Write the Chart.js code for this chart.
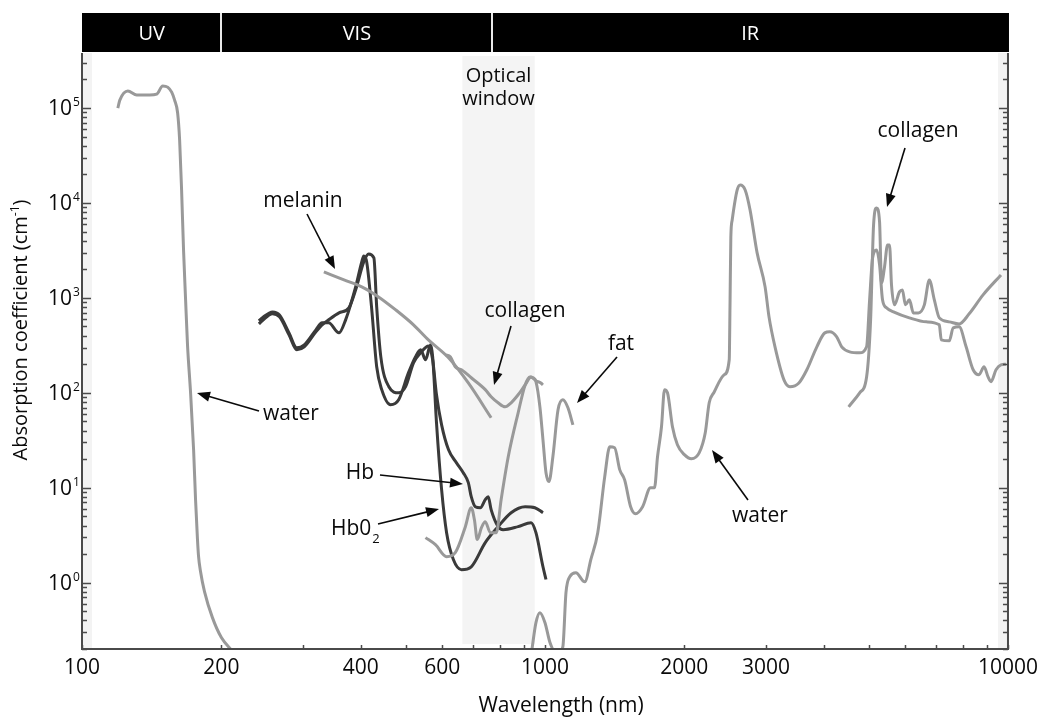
<!DOCTYPE html>
<html>
<head>
<meta charset="utf-8">
<title>Absorption spectra of tissue chromophores</title>
<script src="https://cdn.jsdelivr.net/npm/chart.js@4.4.1/dist/chart.umd.min.js"></script>
<style>
  html, body { margin: 0; padding: 0; background: #fff; }
  canvas { display: block; }
</style>
</head>
<body>
<canvas id="chart" width="1044" height="720"></canvas>
<script>
// Wavelengths (nm) and absorption coefficients (cm^-1)
const waterUvNm = [119.5, 120.7, 125.6, 131.3, 140, 145, 149.4, 153.1, 156.2, 158.5, 160.9, 162.5, 164.1, 165.7, 167.4, 169.0, 171.6, 174.2, 175.9, 177.6, 178.5, 180.3, 183.9, 191.3, 200, 211.3];
const waterUvAbs = [1.0e5, 1.21e5, 1.51e5, 1.37e5, 1.37e5, 1.40e5, 1.71e5, 1.66e5, 1.47e5, 1.21e5, 8.86e4, 4.6e4, 1.37e4, 3200, 953, 320, 100, 25.1, 7.48, 2.84, 1.92, 1.31, 0.804, 0.428, 0.264, 0.19];

const waterIrNm = [936, 956, 975, 1000, 1025, 1051, 1077, 1093, 1110, 1132, 1166, 1219, 1256, 1300, 1346, 1380, 1414, 1450, 1486, 1531, 1569, 1625, 1690, 1724, 1750, 1785, 1812, 1839, 1885, 1932, 2000, 2071, 2154, 2219, 2263, 2320, 2438, 2500, 2510, 2520, 2537, 2601, 2640, 2706, 2773, 2872, 2988, 3047, 3139, 3282, 3381, 3535, 3678, 3865, 4021, 4122, 4267, 4374, 4551, 4783, 4950, 5025, 5100, 5202, 5280, 5358, 5465, 5659, 6124, 6664, 7106, 7177, 7467, 7616, 7845, 8120, 8409, 8657, 8879, 9057, 9192, 9423, 9658, 9900];
const waterIrAbs = [0.19, 0.379, 0.483, 0.379, 0.234, 0.19, 0.19, 0.212, 0.785, 1.16, 1.27, 1.02, 1.75, 3.36, 13.1, 27.0, 26.4, 15.5, 12.1, 6.31, 5.32, 6.31, 10, 10, 21.2, 43.9, 108, 100, 43.9, 28.4, 22.3, 20.2, 23.4, 37.9, 78.5, 102, 155, 223, 886, 4387, 6624, 13700, 15470, 13700, 8440, 2977, 1306, 631, 305, 137, 116, 127, 175, 305, 428, 439, 389, 305, 270, 264, 305, 953, 2637, 3202, 2226, 953, 785, 712, 616, 559, 520, 361, 353, 483, 495, 305, 175, 155, 188, 147, 131, 175, 197, 200];

const melaninNm = [333, 368, 402, 437, 476, 520, 560, 619, 683, 765];
const melaninAbs = [1878, 1547, 1306, 1024, 747, 520, 361, 234, 127, 54.6];

const collagenVisNm = [610, 625, 640, 660, 693, 743, 765, 792, 820, 845, 875, 906, 933, 956, 980, 990];
const collagenVisAbs = [251, 239, 188, 175, 144, 108, 90.8, 78.5, 71.2, 78.5, 95.3, 121, 147, 134, 127, 121];

const collagenIrNm = [4528, 4783, 4950, 5050, 5125, 5202, 5280, 5332, 5412, 5493, 5548, 5603, 5686, 5829, 5916, 6004, 6124, 6247, 6404, 6597, 6763, 6933, 7106, 7467, 7845, 8244, 8835, 9658];
const collagenIrAbs = [71.2, 100, 147, 587, 5868, 8858, 6310, 1439, 2120, 3613, 3613, 1370, 844, 1157, 1214, 844, 953, 695, 695, 844, 1547, 953, 616, 559, 532, 679, 1076, 1746];

const fatNm = [552, 580, 613, 640, 673, 693, 704, 714, 729, 743, 762, 785, 804, 833, 875, 906, 928, 942, 956, 975, 990, 1005, 1020, 1040, 1067, 1093, 1121, 1149];
const fatAbs = [2.98, 2.51, 1.88, 2.07, 3.89, 6.16, 4.60, 2.84, 3.79, 4.39, 3.36, 3.36, 7.48, 21.2, 61.6, 121, 147, 144, 131, 71.2, 32.0, 14.4, 11.6, 21.2, 66.2, 84.4, 69.5, 46.0];

const hbo2Nm = [241, 245, 258, 267, 280, 291, 302, 320, 330, 341, 359, 371, 390, 402, 406, 412, 422, 433, 444, 464, 483, 507, 525, 539, 552, 566, 572, 583, 598, 613, 634, 660, 693, 743, 792, 845, 906, 951, 990];
const hbo2Abs = [573, 616, 712, 662, 428, 298, 320, 460, 546, 546, 428, 587, 1306, 2393, 2768, 2393, 804, 188, 108, 74.8, 84.4, 162, 239, 284, 223, 320, 239, 48.3, 9.53, 3.36, 1.75, 1.37, 1.47, 2.64, 3.89, 5.46, 6.31, 6.16, 5.46];

const hbNm = [241, 245, 258, 267, 280, 291, 302, 320, 330, 341, 359, 377, 390, 406, 416, 427, 433, 442, 460, 483, 500, 520, 541, 560, 572, 583, 598, 619, 644, 666, 683, 693, 707, 725, 743, 754, 765, 792, 812, 875, 933, 956, 990, 1005];
const hbAbs = [532, 573, 679, 631, 408, 284, 305, 439, 520, 587, 695, 785, 1214, 2393, 2905, 2637, 804, 239, 116, 100, 116, 207, 270, 312, 223, 95.3, 46.0, 25.1, 18.3, 14.4, 11.3, 8.04, 6.31, 6.16, 7.48, 8.04, 5.87, 3.89, 3.61, 3.89, 4.28, 3.36, 1.47, 1.08];

// axis ticks and spectral bands
const xTickValues = [100, 200, 300, 400, 500, 600, 700, 800, 900, 1000, 2000, 3000, 4000, 5000, 6000, 7000, 8000, 9000, 10000];
const xLabelValues = [100, 200, 400, 600, 1000, 2000, 3000, 10000];
const yExponents = [0, 1, 2, 3, 4, 5];
const bandNames = ['UV', 'VIS', 'IR'];
const bandEdgesNm = [100, 200, 770, 10000];
const opticalWindowNm = [663, 950];

const FONT = "'Open Sans', 'DejaVu Sans', sans-serif";
const LIGHT = '#999999';
const DARK = '#3a3a3a';
const INK = '#0a0a0a';

function pairs(xs, ys) {
    return xs.map((v, i) => ({ x: v, y: ys[i] }));
}

function series(label, xs, ys, color) {
    return {
        label: label,
        data: pairs(xs, ys),
        borderColor: color,
        borderWidth: 3,
        pointRadius: 0,
        fill: false,
        cubicInterpolationMode: 'monotone'
    };
}

// light curves first so they sit on top of the haemoglobin lines
const datasets = [
    series('water', waterUvNm, waterUvAbs, LIGHT),
    series('water IR', waterIrNm, waterIrAbs, LIGHT),
    series('melanin', melaninNm, melaninAbs, LIGHT),
    series('collagen', collagenVisNm, collagenVisAbs, LIGHT),
    series('collagen IR', collagenIrNm, collagenIrAbs, LIGHT),
    series('fat', fatNm, fatAbs, LIGHT),
    series('Hb', hbNm, hbAbs, DARK),
    series('HbO2', hbo2Nm, hbo2Abs, DARK)
];

// callout labels and arrows (canvas pixels)
const callouts = [
    { text: 'melanin', x: 303, y: 207, from: [307, 214], to: [335, 269] },
    { text: 'collagen', x: 525, y: 317, from: [511, 326], to: [494, 385] },
    { text: 'fat', x: 621, y: 350, from: [617, 357], to: [577, 403] },
    { text: 'water', x: 291, y: 420, from: [259, 411], to: [197, 393] },
    { text: 'Hb', x: 360, y: 479, from: [380, 475], to: [463, 484] },
    { text: 'water', x: 760, y: 522, from: [748, 500], to: [712, 450] },
    { text: 'collagen', x: 918, y: 137, from: [905, 148], to: [887, 207] },
    { text: '', x: 0, y: 0, from: [378, 524], to: [439, 509] }
];

function drawArrow(ctx, from, to) {
    const dx = to[0] - from[0], dy = to[1] - from[1];
    const len = Math.hypot(dx, dy);
    const ux = dx / len, uy = dy / len;
    const head = 13, half = 5;
    const bx = to[0] - ux * head, by = to[1] - uy * head;
    ctx.beginPath();
    ctx.moveTo(from[0], from[1]);
    ctx.lineTo(bx + ux * 2, by + uy * 2);
    ctx.stroke();
    ctx.beginPath();
    ctx.moveTo(to[0], to[1]);
    ctx.lineTo(bx - uy * half, by + ux * half);
    ctx.lineTo(bx + uy * half, by - ux * half);
    ctx.closePath();
    ctx.fill();
}

const framePlugin = {
    id: 'frame',
    beforeDraw(chart) {
        const ctx = chart.ctx;
        ctx.save();
        ctx.fillStyle = '#fff';
        ctx.fillRect(0, 0, chart.width, chart.height);
        ctx.restore();
    },
    beforeDatasetsDraw(chart) {
        const { ctx, chartArea: a, scales: { x } } = chart;
        ctx.save();
        // faint strips inside the side axes
        ctx.fillStyle = '#f3f3f3';
        ctx.fillRect(a.left, a.top, 10, a.bottom - a.top);
        ctx.fillRect(a.right - 10, a.top, 10, a.bottom - a.top);
        // optical window
        const wl = x.getPixelForValue(opticalWindowNm[0]);
        const wr = x.getPixelForValue(opticalWindowNm[1]);
        ctx.fillStyle = '#f4f4f4';
        ctx.fillRect(wl, a.top + 3, wr - wl, a.bottom - a.top - 8);
        ctx.fillStyle = INK;
        ctx.font = '20px ' + FONT;
        ctx.textAlign = 'center';
        ctx.textBaseline = 'alphabetic';
        ctx.fillText('Optical', (wl + wr) / 2, 82);
        ctx.fillText('window', (wl + wr) / 2, 105);
        ctx.restore();
    },
    afterDatasetsDraw(chart) {
        const { ctx, chartArea: a, scales: { x, y } } = chart;
        ctx.save();

        // spectral band header
        ctx.fillStyle = '#000';
        ctx.fillRect(a.left, 13, a.right - a.left + 1, 39);
        ctx.strokeStyle = '#e8e8e8';
        ctx.lineWidth = 2;
        for (let i = 1; i < bandEdgesNm.length - 1; i++) {
            const px = Math.round(x.getPixelForValue(bandEdgesNm[i]));
            ctx.beginPath();
            ctx.moveTo(px, 13);
            ctx.lineTo(px, 52);
            ctx.stroke();
        }
        ctx.fillStyle = '#fff';
        ctx.font = '20px ' + FONT;
        ctx.textAlign = 'center';
        ctx.textBaseline = 'alphabetic';
        bandNames.forEach((name, i) => {
            const l = x.getPixelForValue(bandEdgesNm[i]);
            const r = x.getPixelForValue(bandEdgesNm[i + 1]);
            ctx.fillText(name, (l + r) / 2, 40);
        });

        // axis lines
        ctx.strokeStyle = '#4a4a4a';
        ctx.lineWidth = 2;
        ctx.beginPath();
        ctx.moveTo(a.left, a.top);
        ctx.lineTo(a.left, a.bottom);
        ctx.lineTo(a.right, a.bottom);
        ctx.lineTo(a.right, a.top);
        ctx.stroke();

        // inward tick marks
        ctx.lineWidth = 1.5;
        y.ticks.forEach(t => {
            const lg = Math.log10(t.value);
            const major = Math.abs(lg - Math.round(lg)) < 1e-6;
            const len = major ? 9 : 5;
            const p = Math.round(y.getPixelForValue(t.value)) + 0.5;
            ctx.beginPath();
            ctx.moveTo(a.left, p);
            ctx.lineTo(a.left + len, p);
            ctx.moveTo(a.right, p);
            ctx.lineTo(a.right - len, p);
            ctx.stroke();
        });
        x.ticks.forEach(t => {
            const p = Math.round(x.getPixelForValue(t.value)) + 0.5;
            ctx.beginPath();
            ctx.moveTo(p, a.bottom);
            ctx.lineTo(p, a.bottom - 4);
            ctx.stroke();
        });

        // y tick labels as 10 with a raised exponent
        ctx.fillStyle = INK;
        ctx.textBaseline = 'alphabetic';
        yExponents.forEach(e => {
            const p = y.getPixelForValue(Math.pow(10, e));
            ctx.font = '21px ' + FONT;
            ctx.textAlign = 'right';
            ctx.fillText('10', a.left - 10, p + 7);
            ctx.font = '12px ' + FONT;
            ctx.textAlign = 'left';
            ctx.fillText(String(e), a.left - 9, p - 2);
        });

        // axis titles
        ctx.font = '21px ' + FONT;
        ctx.textAlign = 'center';
        ctx.fillText('Wavelength (nm)', 561, 712);

        ctx.save();
        ctx.translate(27, 330);
        ctx.rotate(-Math.PI / 2);
        const partA = 'Absorption coefficient (cm';
        ctx.font = '20px ' + FONT;
        const wA = ctx.measureText(partA).width;
        const wC = ctx.measureText(')').width;
        ctx.font = '12px ' + FONT;
        const wB = ctx.measureText('-1').width;
        let cx = -(wA + wB + wC) / 2;
        ctx.textAlign = 'left';
        ctx.font = '20px ' + FONT;
        ctx.fillText(partA, cx, 0);
        cx += wA;
        ctx.font = '12px ' + FONT;
        ctx.fillText('-1', cx, -8);
        cx += wB;
        ctx.font = '20px ' + FONT;
        ctx.fillText(')', cx, 0);
        ctx.restore();

        // callouts
        ctx.strokeStyle = INK;
        ctx.fillStyle = INK;
        ctx.lineWidth = 1.6;
        callouts.forEach(c => {
            if (c.text) {
                ctx.font = '21px ' + FONT;
                ctx.textAlign = 'center';
                ctx.fillText(c.text, c.x, c.y);
            }
            drawArrow(ctx, c.from, c.to);
        });
        // HbO2 label with subscript
        ctx.font = '21px ' + FONT;
        ctx.textAlign = 'left';
        ctx.fillText('Hb0', 331, 535);
        const wHb = ctx.measureText('Hb0').width;
        ctx.font = '13px ' + FONT;
        ctx.fillText('2', 331 + wHb + 1, 543);

        ctx.restore();
    }
};

Chart.defaults.font.family = FONT;

const chart = new Chart(document.getElementById('chart').getContext('2d'), {
    type: 'line',
    data: { datasets: datasets },
    options: {
        responsive: false,
        animation: false,
        layout: { padding: { top: 53, right: 32, left: 0, bottom: 0 } },
        plugins: {
            legend: { display: false },
            tooltip: { enabled: false }
        },
        scales: {
            x: {
                type: 'logarithmic',
                min: 100,
                max: 10000,
                afterBuildTicks: scale => {
                    scale.ticks = xTickValues.map(v => ({ value: v }));
                },
                afterFit: scale => { scale.height = 71; },
                grid: { display: false, drawTicks: false },
                border: { display: false },
                ticks: {
                    autoSkip: false,
                    maxRotation: 0,
                    padding: 6,
                    color: INK,
                    font: { size: 21 },
                    callback: value => xLabelValues.includes(value) ? String(value) : ''
                }
            },
            y: {
                type: 'logarithmic',
                min: 0.2,
                max: 3.8e5,
                afterBuildTicks: scale => {
                    const ticks = [];
                    for (let e = -1; e <= 5; e++) {
                        for (let m = 1; m <= 9; m++) {
                            const v = m * Math.pow(10, e);
                            if (v >= 0.2 && v <= 3.8e5) ticks.push({ value: v });
                        }
                    }
                    scale.ticks = ticks;
                },
                afterFit: scale => { scale.width = 82; },
                grid: { display: false, drawTicks: false },
                border: { display: false },
                ticks: { display: false }
            }
        }
    },
    plugins: [framePlugin]
});
</script>
</body>
</html>
